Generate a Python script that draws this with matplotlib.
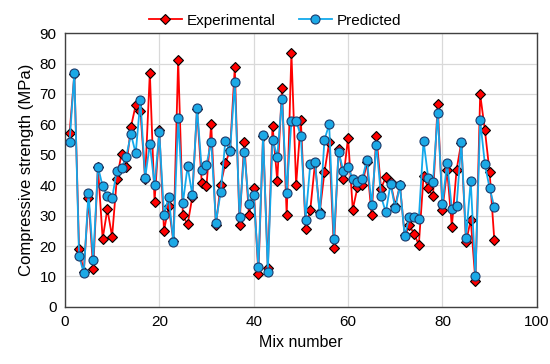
import numpy as np
import matplotlib
matplotlib.use("Agg")
import matplotlib.pyplot as plt

plt.rcParams["font.family"] = ["Liberation Sans", "DejaVu Sans"]

# mix numbers 1..91
mix = list(range(1, 92))

experimental = [
    57.2, 76.5, 19.1, 11.5, 35.7, 12.3, 46.0, 22.4, 32.1, 23.1,
    42.1, 50.3, 46.1, 59.2, 66.3, 64.5, 42.0, 77.0, 34.6, 58.3,
    25.1, 33.0, 21.5, 81.2, 30.1, 27.1, 36.1, 65.2, 40.8, 39.6,
    60.1, 26.8, 40.2, 47.2, 51.5, 78.7, 27.0, 54.1, 30.1, 39.0,
    10.9, 56.3, 12.8, 59.6, 41.5, 71.8, 30.1, 83.4, 40.1, 61.4,
    25.7, 31.9, 47.3, 31.1, 44.3, 54.1, 19.3, 51.9, 42.1, 55.6,
    32.0, 39.3, 40.1, 47.5, 30.1, 56.3, 38.8, 42.8, 41.0, 33.3,
    40.0, 23.5, 26.8, 24.0, 20.4, 43.0, 39.0, 36.3, 66.7, 31.9,
    45.1, 26.4, 45.1, 54.0, 21.3, 28.6, 8.4, 69.9, 58.1, 44.3,
    21.9,
]

predicted = [
    54.3, 77.0, 16.7, 11.1, 37.5, 15.3, 46.1, 39.6, 36.4, 35.7,
    44.8, 45.6, 49.4, 56.8, 50.5, 67.9, 42.3, 53.6, 39.9, 57.4,
    30.3, 36.1, 21.3, 62.2, 34.1, 46.2, 36.8, 65.4, 45.1, 46.7,
    54.3, 27.7, 37.7, 54.6, 51.3, 73.8, 29.7, 50.8, 33.7, 36.8,
    13.1, 56.5, 11.5, 54.9, 49.4, 68.3, 37.4, 61.2, 61.2, 56.1,
    28.7, 47.0, 47.5, 30.4, 54.9, 60.0, 22.2, 50.8, 44.8, 45.9,
    42.1, 41.0, 41.9, 48.4, 33.6, 53.3, 36.3, 31.1, 40.4, 32.5,
    39.9, 23.2, 29.7, 29.7, 29.0, 54.6, 42.3, 41.0, 63.6, 33.7,
    47.4, 32.2, 33.1, 54.3, 22.8, 41.4, 10.2, 61.4, 46.9, 39.0,
    32.8,
]

fig = plt.figure(figsize=(5.5, 3.64), dpi=100)
ax = fig.add_axes([0.118, 0.157, 0.858, 0.752])

ax.plot(mix, experimental, color="#FF0000", lw=1.3, marker="D", ms=5.5,
        mfc="#FF0000", mec="black", mew=0.8, label="Experimental", zorder=3)
ax.plot(mix, predicted, color="#12A9EC", lw=1.3, marker="o", ms=6.5,
        mfc="#1CA9E6", mec="#1B3A6B", mew=0.8, label="Predicted", zorder=4)

ax.set_xlim(0, 100)
ax.set_ylim(0, 90)
ax.set_xticks(np.arange(0, 101, 20))
ax.set_yticks(np.arange(0, 91, 10))
ax.grid(True, color="#D9D9D9", lw=0.9)
ax.set_axisbelow(True)
for s in ax.spines.values():
    s.set_color("#404040")
    s.set_linewidth(1.0)
ax.tick_params(length=0, labelsize=11, colors="black", pad=6)

ax.set_xlabel("Mix number", fontsize=11.5)
ax.set_ylabel("Compressive strength (MPa)", fontsize=12)

fig.legend(*ax.get_legend_handles_labels(), loc="upper center",
           bbox_to_anchor=(0.5, 1.0), ncol=2, frameon=False, fontsize=11,
           handlelength=2.2, handletextpad=0.3, columnspacing=1.5)

fig.savefig("out.png", dpi=100)
